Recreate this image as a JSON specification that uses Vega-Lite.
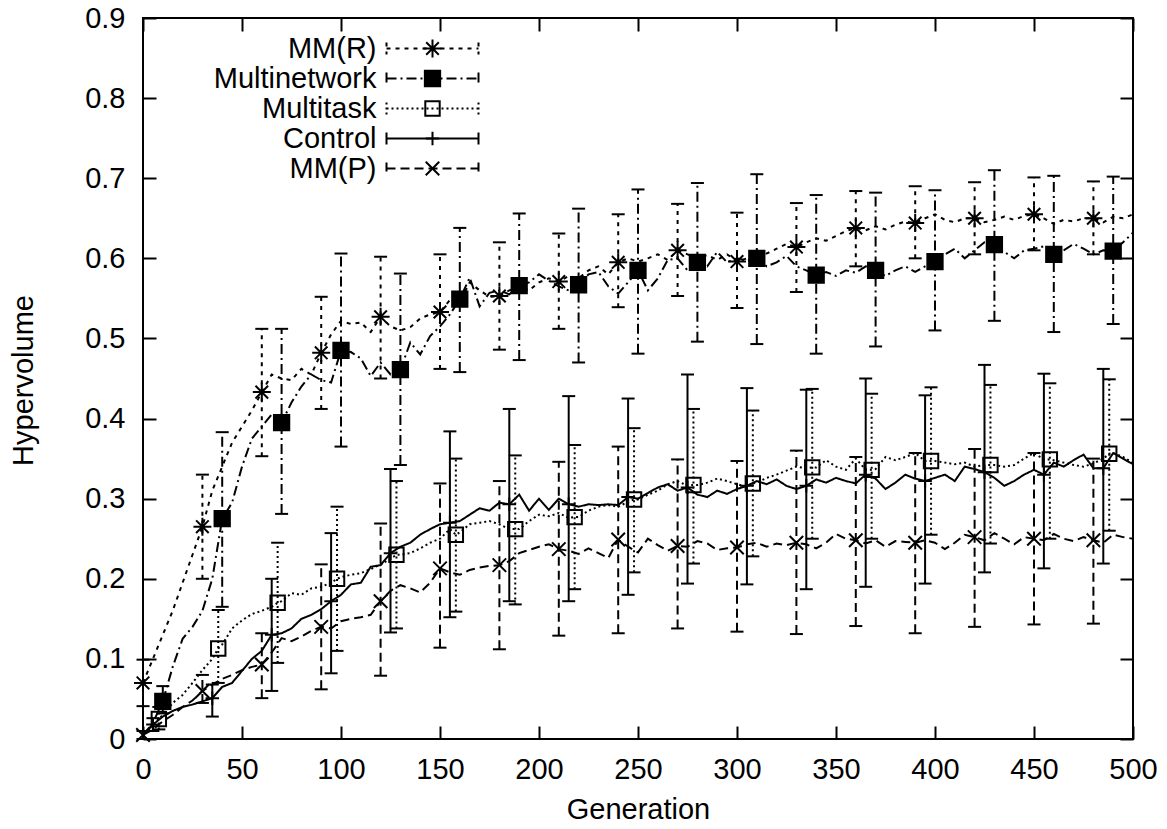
{
"$schema":"https://vega.github.io/schema/vega-lite/v6.json",
"width":990,"height":721,
"autosize":{"type":"none"},
"padding":{"left":143,"top":18,"right":34,"bottom":90},
"background":"white",
"data":{"values":[
{"s":"MM(R)","g":0,"v":0.070,"lo":0.041,"hi":0.099},{"s":"MM(R)","g":5,"v":0.100},{"s":"MM(R)","g":10,"v":0.130},{"s":"MM(R)","g":15,"v":0.160},{"s":"MM(R)","g":20,"v":0.195},{"s":"MM(R)","g":25,"v":0.230},
{"s":"MM(R)","g":30,"v":0.265,"lo":0.200,"hi":0.330},{"s":"MM(R)","g":35,"v":0.310},{"s":"MM(R)","g":40,"v":0.340},{"s":"MM(R)","g":45,"v":0.370},{"s":"MM(R)","g":50,"v":0.390},{"s":"MM(R)","g":55,"v":0.410},
{"s":"MM(R)","g":60,"v":0.433,"lo":0.353,"hi":0.512},{"s":"MM(R)","g":65,"v":0.455},{"s":"MM(R)","g":70,"v":0.450},{"s":"MM(R)","g":75,"v":0.448},{"s":"MM(R)","g":80,"v":0.462},{"s":"MM(R)","g":85,"v":0.455},
{"s":"MM(R)","g":90,"v":0.482,"lo":0.412,"hi":0.552},{"s":"MM(R)","g":95,"v":0.505},{"s":"MM(R)","g":100,"v":0.522},{"s":"MM(R)","g":105,"v":0.518},{"s":"MM(R)","g":110,"v":0.520},{"s":"MM(R)","g":115,"v":0.508},
{"s":"MM(R)","g":120,"v":0.527,"lo":0.450,"hi":0.602},{"s":"MM(R)","g":125,"v":0.515},{"s":"MM(R)","g":130,"v":0.510},{"s":"MM(R)","g":135,"v":0.514},{"s":"MM(R)","g":140,"v":0.525},{"s":"MM(R)","g":145,"v":0.530},
{"s":"MM(R)","g":150,"v":0.533,"lo":0.462,"hi":0.605},{"s":"MM(R)","g":155,"v":0.548},{"s":"MM(R)","g":160,"v":0.545},{"s":"MM(R)","g":165,"v":0.570},{"s":"MM(R)","g":170,"v":0.560},{"s":"MM(R)","g":175,"v":0.552},
{"s":"MM(R)","g":180,"v":0.553,"lo":0.486,"hi":0.620},{"s":"MM(R)","g":185,"v":0.560},{"s":"MM(R)","g":190,"v":0.565},{"s":"MM(R)","g":195,"v":0.560},{"s":"MM(R)","g":200,"v":0.570},{"s":"MM(R)","g":205,"v":0.575},
{"s":"MM(R)","g":210,"v":0.571,"lo":0.512,"hi":0.631},{"s":"MM(R)","g":215,"v":0.578},{"s":"MM(R)","g":220,"v":0.575},{"s":"MM(R)","g":225,"v":0.585},{"s":"MM(R)","g":230,"v":0.590},{"s":"MM(R)","g":235,"v":0.580},
{"s":"MM(R)","g":240,"v":0.595,"lo":0.539,"hi":0.655},{"s":"MM(R)","g":245,"v":0.600},{"s":"MM(R)","g":250,"v":0.596},{"s":"MM(R)","g":255,"v":0.600},{"s":"MM(R)","g":260,"v":0.605},{"s":"MM(R)","g":265,"v":0.598},
{"s":"MM(R)","g":270,"v":0.610,"lo":0.553,"hi":0.668},{"s":"MM(R)","g":275,"v":0.605},{"s":"MM(R)","g":280,"v":0.600},{"s":"MM(R)","g":285,"v":0.604},{"s":"MM(R)","g":290,"v":0.598},{"s":"MM(R)","g":295,"v":0.605},
{"s":"MM(R)","g":300,"v":0.596,"lo":0.538,"hi":0.657},{"s":"MM(R)","g":305,"v":0.600},{"s":"MM(R)","g":310,"v":0.610},{"s":"MM(R)","g":315,"v":0.606},{"s":"MM(R)","g":320,"v":0.612},{"s":"MM(R)","g":325,"v":0.618},
{"s":"MM(R)","g":330,"v":0.614,"lo":0.558,"hi":0.669},{"s":"MM(R)","g":335,"v":0.620},{"s":"MM(R)","g":340,"v":0.625},{"s":"MM(R)","g":345,"v":0.622},{"s":"MM(R)","g":350,"v":0.628},{"s":"MM(R)","g":355,"v":0.634},
{"s":"MM(R)","g":360,"v":0.638,"lo":0.590,"hi":0.684},{"s":"MM(R)","g":365,"v":0.635},{"s":"MM(R)","g":370,"v":0.640},{"s":"MM(R)","g":375,"v":0.636},{"s":"MM(R)","g":380,"v":0.642},{"s":"MM(R)","g":385,"v":0.646},
{"s":"MM(R)","g":390,"v":0.644,"lo":0.600,"hi":0.690},{"s":"MM(R)","g":395,"v":0.650},{"s":"MM(R)","g":400,"v":0.655},{"s":"MM(R)","g":405,"v":0.648},{"s":"MM(R)","g":410,"v":0.645},{"s":"MM(R)","g":415,"v":0.650},
{"s":"MM(R)","g":420,"v":0.650,"lo":0.605,"hi":0.695},{"s":"MM(R)","g":425,"v":0.645},{"s":"MM(R)","g":430,"v":0.648},{"s":"MM(R)","g":435,"v":0.652},{"s":"MM(R)","g":440,"v":0.648},{"s":"MM(R)","g":445,"v":0.653},
{"s":"MM(R)","g":450,"v":0.655,"lo":0.610,"hi":0.701},{"s":"MM(R)","g":455,"v":0.650},{"s":"MM(R)","g":460,"v":0.643},{"s":"MM(R)","g":465,"v":0.648},{"s":"MM(R)","g":470,"v":0.646},{"s":"MM(R)","g":475,"v":0.650},
{"s":"MM(R)","g":480,"v":0.650,"lo":0.605,"hi":0.696},{"s":"MM(R)","g":485,"v":0.645},{"s":"MM(R)","g":490,"v":0.652},{"s":"MM(R)","g":495,"v":0.650},{"s":"MM(R)","g":500,"v":0.655},

{"s":"Multinetwork","g":0,"v":0.005},{"s":"Multinetwork","g":5,"v":0.020},{"s":"Multinetwork","g":10,"v":0.047,"lo":0.032,"hi":0.066},{"s":"Multinetwork","g":15,"v":0.090},{"s":"Multinetwork","g":20,"v":0.125},{"s":"Multinetwork","g":25,"v":0.140},{"s":"Multinetwork","g":30,"v":0.160},{"s":"Multinetwork","g":35,"v":0.200},
{"s":"Multinetwork","g":40,"v":0.275,"lo":0.165,"hi":0.383},{"s":"Multinetwork","g":45,"v":0.295},{"s":"Multinetwork","g":50,"v":0.340},{"s":"Multinetwork","g":55,"v":0.375},{"s":"Multinetwork","g":60,"v":0.390},{"s":"Multinetwork","g":65,"v":0.405},
{"s":"Multinetwork","g":70,"v":0.395,"lo":0.281,"hi":0.512},{"s":"Multinetwork","g":75,"v":0.420},{"s":"Multinetwork","g":80,"v":0.440},{"s":"Multinetwork","g":85,"v":0.455},{"s":"Multinetwork","g":90,"v":0.448},{"s":"Multinetwork","g":95,"v":0.445},
{"s":"Multinetwork","g":100,"v":0.485,"lo":0.365,"hi":0.606},{"s":"Multinetwork","g":105,"v":0.483},{"s":"Multinetwork","g":110,"v":0.475},{"s":"Multinetwork","g":115,"v":0.453},{"s":"Multinetwork","g":120,"v":0.470},{"s":"Multinetwork","g":125,"v":0.455},
{"s":"Multinetwork","g":130,"v":0.461,"lo":0.342,"hi":0.581},{"s":"Multinetwork","g":135,"v":0.495},{"s":"Multinetwork","g":140,"v":0.480},{"s":"Multinetwork","g":145,"v":0.503},{"s":"Multinetwork","g":150,"v":0.515},{"s":"Multinetwork","g":155,"v":0.530},
{"s":"Multinetwork","g":160,"v":0.549,"lo":0.458,"hi":0.638},{"s":"Multinetwork","g":165,"v":0.576},{"s":"Multinetwork","g":170,"v":0.540},{"s":"Multinetwork","g":175,"v":0.557},{"s":"Multinetwork","g":180,"v":0.560},{"s":"Multinetwork","g":185,"v":0.555},
{"s":"Multinetwork","g":190,"v":0.566,"lo":0.473,"hi":0.656},{"s":"Multinetwork","g":195,"v":0.570},{"s":"Multinetwork","g":200,"v":0.580},{"s":"Multinetwork","g":205,"v":0.572},{"s":"Multinetwork","g":210,"v":0.565},{"s":"Multinetwork","g":215,"v":0.560},
{"s":"Multinetwork","g":220,"v":0.567,"lo":0.470,"hi":0.662},{"s":"Multinetwork","g":225,"v":0.580},{"s":"Multinetwork","g":230,"v":0.583},{"s":"Multinetwork","g":235,"v":0.565},{"s":"Multinetwork","g":240,"v":0.556},{"s":"Multinetwork","g":245,"v":0.570},
{"s":"Multinetwork","g":250,"v":0.585,"lo":0.481,"hi":0.686},{"s":"Multinetwork","g":255,"v":0.560},{"s":"Multinetwork","g":260,"v":0.575},{"s":"Multinetwork","g":265,"v":0.598},{"s":"Multinetwork","g":270,"v":0.600},{"s":"Multinetwork","g":275,"v":0.585},
{"s":"Multinetwork","g":280,"v":0.595,"lo":0.496,"hi":0.694},{"s":"Multinetwork","g":285,"v":0.590},{"s":"Multinetwork","g":290,"v":0.608},{"s":"Multinetwork","g":295,"v":0.595},{"s":"Multinetwork","g":300,"v":0.600},{"s":"Multinetwork","g":305,"v":0.597},
{"s":"Multinetwork","g":310,"v":0.600,"lo":0.493,"hi":0.705},{"s":"Multinetwork","g":315,"v":0.590},{"s":"Multinetwork","g":320,"v":0.595},{"s":"Multinetwork","g":325,"v":0.603},{"s":"Multinetwork","g":330,"v":0.590},{"s":"Multinetwork","g":335,"v":0.585},
{"s":"Multinetwork","g":340,"v":0.579,"lo":0.481,"hi":0.679},{"s":"Multinetwork","g":345,"v":0.583},{"s":"Multinetwork","g":350,"v":0.578},{"s":"Multinetwork","g":355,"v":0.585},{"s":"Multinetwork","g":360,"v":0.582},{"s":"Multinetwork","g":365,"v":0.590},
{"s":"Multinetwork","g":370,"v":0.585,"lo":0.490,"hi":0.682},{"s":"Multinetwork","g":375,"v":0.578},{"s":"Multinetwork","g":380,"v":0.585},{"s":"Multinetwork","g":385,"v":0.590},{"s":"Multinetwork","g":390,"v":0.583},{"s":"Multinetwork","g":395,"v":0.590},
{"s":"Multinetwork","g":400,"v":0.596,"lo":0.510,"hi":0.685},{"s":"Multinetwork","g":405,"v":0.605},{"s":"Multinetwork","g":410,"v":0.612},{"s":"Multinetwork","g":415,"v":0.600},{"s":"Multinetwork","g":420,"v":0.610},{"s":"Multinetwork","g":425,"v":0.620},
{"s":"Multinetwork","g":430,"v":0.617,"lo":0.522,"hi":0.710},{"s":"Multinetwork","g":435,"v":0.608},{"s":"Multinetwork","g":440,"v":0.600},{"s":"Multinetwork","g":445,"v":0.610},{"s":"Multinetwork","g":450,"v":0.612},{"s":"Multinetwork","g":455,"v":0.615},
{"s":"Multinetwork","g":460,"v":0.605,"lo":0.508,"hi":0.703},{"s":"Multinetwork","g":465,"v":0.610},{"s":"Multinetwork","g":470,"v":0.618},{"s":"Multinetwork","g":475,"v":0.612},{"s":"Multinetwork","g":480,"v":0.605},{"s":"Multinetwork","g":485,"v":0.610},
{"s":"Multinetwork","g":490,"v":0.609,"lo":0.518,"hi":0.702},{"s":"Multinetwork","g":495,"v":0.620},{"s":"Multinetwork","g":500,"v":0.632},

{"s":"Multitask","g":0,"v":0.005},{"s":"Multitask","g":5,"v":0.018},{"s":"Multitask","g":8,"v":0.025,"lo":0.012,"hi":0.040},{"s":"Multitask","g":10,"v":0.030},{"s":"Multitask","g":15,"v":0.045},{"s":"Multitask","g":20,"v":0.055},{"s":"Multitask","g":25,"v":0.070},{"s":"Multitask","g":30,"v":0.086},{"s":"Multitask","g":35,"v":0.100},
{"s":"Multitask","g":38,"v":0.113,"lo":0.070,"hi":0.161},{"s":"Multitask","g":40,"v":0.118},{"s":"Multitask","g":45,"v":0.138},{"s":"Multitask","g":50,"v":0.148},{"s":"Multitask","g":55,"v":0.156},{"s":"Multitask","g":60,"v":0.160},{"s":"Multitask","g":65,"v":0.165},
{"s":"Multitask","g":68,"v":0.170,"lo":0.095,"hi":0.245},{"s":"Multitask","g":70,"v":0.172},{"s":"Multitask","g":75,"v":0.182},{"s":"Multitask","g":80,"v":0.180},{"s":"Multitask","g":85,"v":0.188},{"s":"Multitask","g":90,"v":0.190},{"s":"Multitask","g":95,"v":0.195},
{"s":"Multitask","g":98,"v":0.200,"lo":0.110,"hi":0.290},{"s":"Multitask","g":100,"v":0.202},{"s":"Multitask","g":105,"v":0.205},{"s":"Multitask","g":110,"v":0.207},{"s":"Multitask","g":115,"v":0.212},{"s":"Multitask","g":120,"v":0.218},{"s":"Multitask","g":125,"v":0.225},
{"s":"Multitask","g":128,"v":0.230,"lo":0.138,"hi":0.322},{"s":"Multitask","g":130,"v":0.230},{"s":"Multitask","g":135,"v":0.232},{"s":"Multitask","g":140,"v":0.238},{"s":"Multitask","g":145,"v":0.245},{"s":"Multitask","g":150,"v":0.250},{"s":"Multitask","g":155,"v":0.262},
{"s":"Multitask","g":158,"v":0.255,"lo":0.159,"hi":0.350},{"s":"Multitask","g":160,"v":0.258},{"s":"Multitask","g":165,"v":0.268},{"s":"Multitask","g":170,"v":0.270},{"s":"Multitask","g":175,"v":0.272},{"s":"Multitask","g":180,"v":0.268},{"s":"Multitask","g":185,"v":0.262},
{"s":"Multitask","g":188,"v":0.262,"lo":0.168,"hi":0.354},{"s":"Multitask","g":190,"v":0.262},{"s":"Multitask","g":195,"v":0.272},{"s":"Multitask","g":200,"v":0.280},{"s":"Multitask","g":205,"v":0.278},{"s":"Multitask","g":210,"v":0.282},{"s":"Multitask","g":215,"v":0.276},
{"s":"Multitask","g":218,"v":0.277,"lo":0.187,"hi":0.367},{"s":"Multitask","g":220,"v":0.277},{"s":"Multitask","g":225,"v":0.285},{"s":"Multitask","g":230,"v":0.290},{"s":"Multitask","g":235,"v":0.292},{"s":"Multitask","g":240,"v":0.290},{"s":"Multitask","g":245,"v":0.296},
{"s":"Multitask","g":248,"v":0.299,"lo":0.208,"hi":0.388},{"s":"Multitask","g":250,"v":0.299},{"s":"Multitask","g":255,"v":0.305},{"s":"Multitask","g":260,"v":0.310},{"s":"Multitask","g":265,"v":0.318},{"s":"Multitask","g":270,"v":0.322},{"s":"Multitask","g":275,"v":0.316},
{"s":"Multitask","g":278,"v":0.317,"lo":0.219,"hi":0.412},{"s":"Multitask","g":280,"v":0.317},{"s":"Multitask","g":285,"v":0.320},{"s":"Multitask","g":290,"v":0.325},{"s":"Multitask","g":295,"v":0.322},{"s":"Multitask","g":300,"v":0.318},{"s":"Multitask","g":305,"v":0.315},
{"s":"Multitask","g":308,"v":0.319,"lo":0.228,"hi":0.410},{"s":"Multitask","g":310,"v":0.320},{"s":"Multitask","g":315,"v":0.326},{"s":"Multitask","g":320,"v":0.330},{"s":"Multitask","g":325,"v":0.335},{"s":"Multitask","g":330,"v":0.340},{"s":"Multitask","g":335,"v":0.338},
{"s":"Multitask","g":338,"v":0.339,"lo":0.250,"hi":0.437},{"s":"Multitask","g":340,"v":0.339},{"s":"Multitask","g":345,"v":0.348},{"s":"Multitask","g":350,"v":0.340},{"s":"Multitask","g":355,"v":0.336},{"s":"Multitask","g":360,"v":0.350},{"s":"Multitask","g":365,"v":0.336},
{"s":"Multitask","g":368,"v":0.336,"lo":0.250,"hi":0.431},{"s":"Multitask","g":370,"v":0.337},{"s":"Multitask","g":375,"v":0.352},{"s":"Multitask","g":380,"v":0.348},{"s":"Multitask","g":385,"v":0.352},{"s":"Multitask","g":390,"v":0.357},{"s":"Multitask","g":395,"v":0.347},
{"s":"Multitask","g":398,"v":0.347,"lo":0.255,"hi":0.439},{"s":"Multitask","g":400,"v":0.347},{"s":"Multitask","g":405,"v":0.345},{"s":"Multitask","g":410,"v":0.343},{"s":"Multitask","g":415,"v":0.345},{"s":"Multitask","g":420,"v":0.340},{"s":"Multitask","g":425,"v":0.342},
{"s":"Multitask","g":428,"v":0.342,"lo":0.244,"hi":0.442},{"s":"Multitask","g":430,"v":0.342},{"s":"Multitask","g":435,"v":0.340},{"s":"Multitask","g":440,"v":0.342},{"s":"Multitask","g":445,"v":0.350},{"s":"Multitask","g":450,"v":0.357},{"s":"Multitask","g":455,"v":0.349},
{"s":"Multitask","g":458,"v":0.349,"lo":0.250,"hi":0.444},{"s":"Multitask","g":460,"v":0.348},{"s":"Multitask","g":465,"v":0.345},{"s":"Multitask","g":470,"v":0.342},{"s":"Multitask","g":475,"v":0.340},{"s":"Multitask","g":480,"v":0.344},{"s":"Multitask","g":485,"v":0.350},
{"s":"Multitask","g":488,"v":0.356,"lo":0.260,"hi":0.449},{"s":"Multitask","g":490,"v":0.357},{"s":"Multitask","g":495,"v":0.352},{"s":"Multitask","g":500,"v":0.345},

{"s":"Control","g":0,"v":0.005},{"s":"Control","g":5,"v":0.018,"lo":0.010,"hi":0.026},{"s":"Control","g":10,"v":0.028},{"s":"Control","g":15,"v":0.035},{"s":"Control","g":20,"v":0.040},{"s":"Control","g":25,"v":0.043},{"s":"Control","g":30,"v":0.047},
{"s":"Control","g":35,"v":0.051,"lo":0.028,"hi":0.068},{"s":"Control","g":40,"v":0.065},{"s":"Control","g":45,"v":0.070},{"s":"Control","g":50,"v":0.085},{"s":"Control","g":55,"v":0.100},{"s":"Control","g":60,"v":0.110},
{"s":"Control","g":65,"v":0.130,"lo":0.060,"hi":0.200},{"s":"Control","g":70,"v":0.132},{"s":"Control","g":75,"v":0.138},{"s":"Control","g":80,"v":0.150},{"s":"Control","g":85,"v":0.155},{"s":"Control","g":90,"v":0.162},
{"s":"Control","g":95,"v":0.172,"lo":0.082,"hi":0.257},{"s":"Control","g":100,"v":0.180},{"s":"Control","g":105,"v":0.193},{"s":"Control","g":110,"v":0.195},{"s":"Control","g":115,"v":0.215},{"s":"Control","g":120,"v":0.217},
{"s":"Control","g":125,"v":0.232,"lo":0.133,"hi":0.337},{"s":"Control","g":130,"v":0.240},{"s":"Control","g":135,"v":0.245},{"s":"Control","g":140,"v":0.255},{"s":"Control","g":145,"v":0.262},{"s":"Control","g":150,"v":0.268},
{"s":"Control","g":155,"v":0.270,"lo":0.152,"hi":0.384},{"s":"Control","g":160,"v":0.272},{"s":"Control","g":165,"v":0.280},{"s":"Control","g":170,"v":0.288},{"s":"Control","g":175,"v":0.285},{"s":"Control","g":180,"v":0.295},
{"s":"Control","g":185,"v":0.293,"lo":0.172,"hi":0.412},{"s":"Control","g":190,"v":0.305},{"s":"Control","g":195,"v":0.285},{"s":"Control","g":200,"v":0.300},{"s":"Control","g":205,"v":0.286},{"s":"Control","g":210,"v":0.300},
{"s":"Control","g":215,"v":0.293,"lo":0.172,"hi":0.428},{"s":"Control","g":220,"v":0.290},{"s":"Control","g":225,"v":0.293},{"s":"Control","g":230,"v":0.292},{"s":"Control","g":235,"v":0.293},{"s":"Control","g":240,"v":0.292},
{"s":"Control","g":245,"v":0.302,"lo":0.180,"hi":0.425},{"s":"Control","g":250,"v":0.300},{"s":"Control","g":255,"v":0.307},{"s":"Control","g":260,"v":0.314},{"s":"Control","g":265,"v":0.318},{"s":"Control","g":270,"v":0.310},
{"s":"Control","g":275,"v":0.314,"lo":0.194,"hi":0.455},{"s":"Control","g":280,"v":0.305},{"s":"Control","g":285,"v":0.302},{"s":"Control","g":290,"v":0.310},{"s":"Control","g":295,"v":0.306},{"s":"Control","g":300,"v":0.312},
{"s":"Control","g":305,"v":0.316,"lo":0.193,"hi":0.438},{"s":"Control","g":310,"v":0.322},{"s":"Control","g":315,"v":0.318},{"s":"Control","g":320,"v":0.324},{"s":"Control","g":325,"v":0.316},{"s":"Control","g":330,"v":0.312},
{"s":"Control","g":335,"v":0.316,"lo":0.187,"hi":0.436},{"s":"Control","g":340,"v":0.324},{"s":"Control","g":345,"v":0.320},{"s":"Control","g":350,"v":0.326},{"s":"Control","g":355,"v":0.322},{"s":"Control","g":360,"v":0.319},
{"s":"Control","g":365,"v":0.330,"lo":0.190,"hi":0.450},{"s":"Control","g":370,"v":0.325},{"s":"Control","g":375,"v":0.312},{"s":"Control","g":380,"v":0.320},{"s":"Control","g":385,"v":0.330},{"s":"Control","g":390,"v":0.325},
{"s":"Control","g":395,"v":0.322,"lo":0.194,"hi":0.429},{"s":"Control","g":400,"v":0.326},{"s":"Control","g":405,"v":0.330},{"s":"Control","g":410,"v":0.322},{"s":"Control","g":415,"v":0.340},{"s":"Control","g":420,"v":0.337},
{"s":"Control","g":425,"v":0.333,"lo":0.208,"hi":0.467},{"s":"Control","g":430,"v":0.326},{"s":"Control","g":435,"v":0.316},{"s":"Control","g":440,"v":0.322},{"s":"Control","g":445,"v":0.330},{"s":"Control","g":450,"v":0.336},
{"s":"Control","g":455,"v":0.330,"lo":0.213,"hi":0.456},{"s":"Control","g":460,"v":0.345},{"s":"Control","g":465,"v":0.340},{"s":"Control","g":470,"v":0.348},{"s":"Control","g":475,"v":0.355},{"s":"Control","g":480,"v":0.338},
{"s":"Control","g":485,"v":0.338,"lo":0.219,"hi":0.462},{"s":"Control","g":490,"v":0.357},{"s":"Control","g":495,"v":0.350},{"s":"Control","g":500,"v":0.343},

{"s":"MM(P)","g":0,"v":0.005,"lo":0.000,"hi":0.010},{"s":"MM(P)","g":5,"v":0.012},{"s":"MM(P)","g":10,"v":0.022},{"s":"MM(P)","g":15,"v":0.030},{"s":"MM(P)","g":20,"v":0.040},{"s":"MM(P)","g":25,"v":0.048},
{"s":"MM(P)","g":30,"v":0.060,"lo":0.045,"hi":0.080},{"s":"MM(P)","g":35,"v":0.068},{"s":"MM(P)","g":40,"v":0.075},{"s":"MM(P)","g":45,"v":0.080},{"s":"MM(P)","g":50,"v":0.086},{"s":"MM(P)","g":55,"v":0.090},
{"s":"MM(P)","g":60,"v":0.093,"lo":0.051,"hi":0.132},{"s":"MM(P)","g":65,"v":0.108},{"s":"MM(P)","g":70,"v":0.126},{"s":"MM(P)","g":75,"v":0.122},{"s":"MM(P)","g":80,"v":0.128},{"s":"MM(P)","g":85,"v":0.135},
{"s":"MM(P)","g":90,"v":0.140,"lo":0.062,"hi":0.218},{"s":"MM(P)","g":95,"v":0.138},{"s":"MM(P)","g":100,"v":0.147},{"s":"MM(P)","g":105,"v":0.150},{"s":"MM(P)","g":110,"v":0.152},{"s":"MM(P)","g":115,"v":0.155},
{"s":"MM(P)","g":120,"v":0.172,"lo":0.079,"hi":0.269},{"s":"MM(P)","g":125,"v":0.185},{"s":"MM(P)","g":130,"v":0.192},{"s":"MM(P)","g":135,"v":0.188},{"s":"MM(P)","g":140,"v":0.183},{"s":"MM(P)","g":145,"v":0.195},
{"s":"MM(P)","g":150,"v":0.213,"lo":0.114,"hi":0.319},{"s":"MM(P)","g":155,"v":0.208},{"s":"MM(P)","g":160,"v":0.205},{"s":"MM(P)","g":165,"v":0.211},{"s":"MM(P)","g":170,"v":0.214},{"s":"MM(P)","g":175,"v":0.216},
{"s":"MM(P)","g":180,"v":0.217,"lo":0.112,"hi":0.322},{"s":"MM(P)","g":185,"v":0.222},{"s":"MM(P)","g":190,"v":0.232},{"s":"MM(P)","g":195,"v":0.236},{"s":"MM(P)","g":200,"v":0.240},{"s":"MM(P)","g":205,"v":0.243},
{"s":"MM(P)","g":210,"v":0.237,"lo":0.129,"hi":0.346},{"s":"MM(P)","g":215,"v":0.235},{"s":"MM(P)","g":220,"v":0.231},{"s":"MM(P)","g":225,"v":0.238},{"s":"MM(P)","g":230,"v":0.232},{"s":"MM(P)","g":235,"v":0.226},
{"s":"MM(P)","g":240,"v":0.249,"lo":0.132,"hi":0.365},{"s":"MM(P)","g":245,"v":0.240},{"s":"MM(P)","g":250,"v":0.233},{"s":"MM(P)","g":255,"v":0.250},{"s":"MM(P)","g":260,"v":0.242},{"s":"MM(P)","g":265,"v":0.235},
{"s":"MM(P)","g":270,"v":0.241,"lo":0.138,"hi":0.349},{"s":"MM(P)","g":275,"v":0.240},{"s":"MM(P)","g":280,"v":0.247},{"s":"MM(P)","g":285,"v":0.244},{"s":"MM(P)","g":290,"v":0.236},{"s":"MM(P)","g":295,"v":0.238},
{"s":"MM(P)","g":300,"v":0.239,"lo":0.134,"hi":0.347},{"s":"MM(P)","g":305,"v":0.243},{"s":"MM(P)","g":310,"v":0.245},{"s":"MM(P)","g":315,"v":0.240},{"s":"MM(P)","g":320,"v":0.244},{"s":"MM(P)","g":325,"v":0.242},
{"s":"MM(P)","g":330,"v":0.245,"lo":0.131,"hi":0.360},{"s":"MM(P)","g":335,"v":0.243},{"s":"MM(P)","g":340,"v":0.238},{"s":"MM(P)","g":345,"v":0.245},{"s":"MM(P)","g":350,"v":0.256},{"s":"MM(P)","g":355,"v":0.250},
{"s":"MM(P)","g":360,"v":0.248,"lo":0.141,"hi":0.352},{"s":"MM(P)","g":365,"v":0.244},{"s":"MM(P)","g":370,"v":0.248},{"s":"MM(P)","g":375,"v":0.240},{"s":"MM(P)","g":380,"v":0.247},{"s":"MM(P)","g":385,"v":0.246},
{"s":"MM(P)","g":390,"v":0.245,"lo":0.132,"hi":0.357},{"s":"MM(P)","g":395,"v":0.248},{"s":"MM(P)","g":400,"v":0.245},{"s":"MM(P)","g":405,"v":0.237},{"s":"MM(P)","g":410,"v":0.245},{"s":"MM(P)","g":415,"v":0.255},
{"s":"MM(P)","g":420,"v":0.252,"lo":0.140,"hi":0.362},{"s":"MM(P)","g":425,"v":0.248},{"s":"MM(P)","g":430,"v":0.257},{"s":"MM(P)","g":435,"v":0.250},{"s":"MM(P)","g":440,"v":0.243},{"s":"MM(P)","g":445,"v":0.252},
{"s":"MM(P)","g":450,"v":0.250,"lo":0.143,"hi":0.357},{"s":"MM(P)","g":455,"v":0.248},{"s":"MM(P)","g":460,"v":0.256},{"s":"MM(P)","g":465,"v":0.250},{"s":"MM(P)","g":470,"v":0.247},{"s":"MM(P)","g":475,"v":0.252},
{"s":"MM(P)","g":480,"v":0.248,"lo":0.144,"hi":0.350},{"s":"MM(P)","g":485,"v":0.245},{"s":"MM(P)","g":490,"v":0.255},{"s":"MM(P)","g":495,"v":0.252},{"s":"MM(P)","g":500,"v":0.250}
]},
"layer":[
{
"mark":{"type":"line","stroke":"black","strokeWidth":2},
"encoding":{
"x":{"field":"g","type":"quantitative","scale":{"domain":[0,500],"nice":false,"zero":false},
"axis":{"orient":"bottom","values":[0,50,100,150,200,250,300,350,400,450,500],"format":"d","title":"Generation","labelPadding":29,"labelFlush":false,"labelOverlap":false,"titleY":79,"titleBaseline":"alphabetic"}},
"y":{"field":"v","type":"quantitative","scale":{"domain":[0,0.9],"nice":false,"zero":false},
"axis":{"orient":"left","values":[0,0.1,0.2,0.3,0.4,0.5,0.6,0.7,0.8,0.9],"format":".1~f","title":"Hypervolume","labelPadding":31,"labelFlush":false,"labelOverlap":false,"titleAngle":-90,"titleX":-111,"titleY":362,"titleBaseline":"alphabetic","titleAlign":"center"}},
"strokeDash":{"field":"s","type":"nominal",
"scale":{"domain":["MM(R)","Multinetwork","Multitask","Control","MM(P)"],"range":[[4,5],[10,4,2,4],[2,3],[1,0],[9,5]]},
"legend":{"orient":"none","legendX":275,"legendY":16,"title":null,"direction":"vertical","symbolType":"M-4.6,-0.6L-4.6,0.6M-4.6,0L4.6,0M4.6,-0.6L4.6,0.6","symbolSize":400,"symbolStrokeColor":"black","symbolStrokeWidth":2,"symbolFillColor":"transparent","symbolOpacity":1,"labelAlign":"right","labelOffset":-70.5,"labelFontSize":29,"labelFont":"Liberation Sans","labelColor":"black","labelLimit":400,"rowPadding":-1.5,"padding":0}}
}
},
{
"transform":[{"filter":"isValid(datum.lo)"}],
"mark":{"type":"rule","stroke":"black","strokeWidth":2},
"encoding":{
"x":{"field":"g","type":"quantitative","scale":{"domain":[0,500],"nice":false,"zero":false},"axis":null},
"y":{"field":"lo","type":"quantitative","scale":{"domain":[0,0.9],"nice":false,"zero":false},"axis":null},
"y2":{"field":"hi"},
"strokeDash":{"field":"s","type":"nominal","legend":null}
}
},
{
"transform":[{"filter":"isValid(datum.lo)"}],
"mark":{"type":"tick","orient":"horizontal","size":13,"thickness":2,"color":"black","opacity":1},
"encoding":{
"x":{"field":"g","type":"quantitative","scale":{"domain":[0,500],"nice":false,"zero":false},
"axis":{"orient":"top","values":[0,50,100,150,200,250,300,350,400,450,500],"labels":false,"title":null}},
"y":{"field":"hi","type":"quantitative","scale":{"domain":[0,0.9],"nice":false,"zero":false},
"axis":{"orient":"right","values":[0,0.1,0.2,0.3,0.4,0.5,0.6,0.7,0.8,0.9],"labels":false,"title":null}}
}
},
{
"transform":[{"filter":"isValid(datum.lo)"}],
"mark":{"type":"tick","orient":"horizontal","size":13,"thickness":2,"color":"black","opacity":1},
"encoding":{
"x":{"field":"g","type":"quantitative","scale":{"domain":[0,500],"nice":false,"zero":false},"axis":null},
"y":{"field":"lo","type":"quantitative","scale":{"domain":[0,0.9],"nice":false,"zero":false},"axis":null}
}
},
{
"transform":[{"filter":"isValid(datum.lo)"}],
"mark":{"type":"point","filled":false,"stroke":"black","fill":"transparent","strokeWidth":2,"size":324,"opacity":1},
"encoding":{
"x":{"field":"g","type":"quantitative","scale":{"domain":[0,500],"nice":false,"zero":false},"axis":null},
"y":{"field":"v","type":"quantitative","scale":{"domain":[0,0.9],"nice":false,"zero":false},"axis":null},
"shape":{"field":"s","type":"nominal","sort":["MM(R)","Multinetwork","Multitask","Control","MM(P)"],
"scale":{"range":["M-1,0L1,0M0,-1L0,1M-0.7,-0.7L0.7,0.7M-0.7,0.7L0.7,-0.7","M-0.85,-0.85L0.85,-0.85L0.85,0.85L-0.85,0.85ZM-0.85,-0.72L0.85,-0.72M-0.85,-0.58L0.85,-0.58M-0.85,-0.44L0.85,-0.44M-0.85,-0.3L0.85,-0.3M-0.85,-0.16L0.85,-0.16M-0.85,-0.02L0.85,-0.02M-0.85,0.12L0.85,0.12M-0.85,0.26L0.85,0.26M-0.85,0.4L0.85,0.4M-0.85,0.54L0.85,0.54M-0.85,0.68L0.85,0.68","M-0.8,-0.8L0.8,-0.8L0.8,0.8L-0.8,0.8Z","M-0.75,0L0.75,0M0,-0.75L0,0.75","M-0.75,-0.75L0.75,0.75M-0.75,0.75L0.75,-0.75"]},
"legend":{"orient":"none","legendX":275,"legendY":16,"title":null,"direction":"vertical","symbolSize":324,"symbolStrokeColor":"black","symbolFillColor":"transparent","symbolStrokeWidth":2,"symbolOpacity":1,"labelOpacity":0,"labelFontSize":29,"labelFont":"Liberation Sans","rowPadding":-1.5,"padding":0}}
}
}
],
"resolve":{"axis":{"x":"independent","y":"independent"}},
"config":{
"font":"Liberation Sans",
"view":{"stroke":"black","strokeWidth":2},
"axis":{"grid":false,"domain":false,"tickSize":-13,"tickWidth":2,"tickColor":"black","labelFontSize":29,"labelFont":"Liberation Sans","labelColor":"black","titleFontSize":29,"titleFont":"Liberation Sans","titleFontWeight":"normal","titleColor":"black"}
}
}
